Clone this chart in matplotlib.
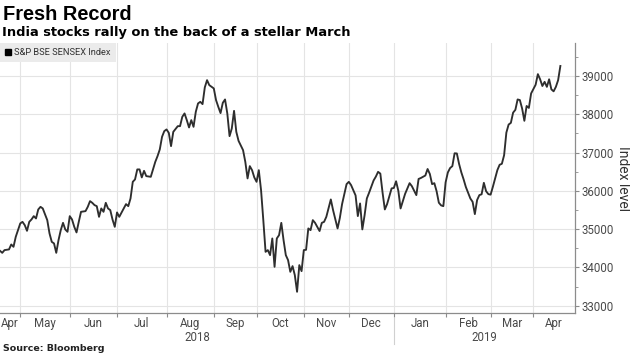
import matplotlib
matplotlib.use("Agg")
import matplotlib.pyplot as plt
from matplotlib.lines import Line2D
from matplotlib.ticker import FixedLocator, MultipleLocator, NullFormatter

# ── Data: S&P BSE Sensex closes, x = trading session (0 = mid-April 2018) ──
SESSION = [
    0, 1, 2, 4, 5, 6, 7, 9, 10, 11, 12, 13, 14, 15, 16, 17, 18, 19, 21, 22,
    23, 24, 25, 26, 27, 28, 29, 30, 31, 32, 33, 34, 35, 36, 38, 39, 40, 41, 42, 43,
    44, 45, 46, 47, 48, 49, 50, 51, 52, 53, 55, 56, 57, 58, 59, 60, 61, 62, 63, 64,
    65, 67, 68, 69, 70, 71, 72, 73, 74, 75, 76, 77, 79, 80, 81, 82, 83, 84, 85, 86,
    87, 88, 89, 90, 91, 92, 93, 95, 96, 97, 98, 99, 100, 101, 102, 103, 104, 105, 106, 108,
    109, 110, 111, 112, 113, 114, 115, 116, 117, 118, 119, 120, 121, 122, 123, 124, 125, 126, 127, 128,
    129, 130, 131, 132, 133, 134, 135, 136, 137, 138, 139, 140, 142, 143, 144, 145, 147, 148, 150, 151,
    152, 154, 155, 156, 158, 159, 160, 161, 162, 163, 164, 166, 167, 168, 169, 170, 171, 172, 173, 174,
    175, 176, 177, 178, 179, 180, 182, 183, 185, 186, 187, 189, 190, 191, 192, 193, 194, 195, 196, 197,
    198, 199, 200, 201, 202, 203, 204, 205, 206, 207, 208, 209, 210, 211, 212, 213, 214, 215, 216, 217,
    218, 219, 221, 222, 223, 224, 225, 226, 227, 228, 229, 230, 231, 232, 233, 234, 235, 236, 238, 239,
    240, 241, 242, 243, 244, 245, 246, 247, 248, 249,
]
CLOSE = [
    34433, 34381, 34452, 34470, 34600, 34538, 34799, 35149, 35190, 35104,
    34956, 35190, 35253, 35339, 35279, 35514, 35582, 35540, 35235, 34888,
    34668, 34627, 34381, 34713, 34974, 35164, 34992, 34930, 35339, 35253,
    35060, 34914, 35190, 35452, 35470, 35582, 35731, 35687, 35627, 35600,
    35321, 35540, 35452, 35687, 35540, 35496, 35250, 35060, 35436, 35321,
    35540, 35653, 35600, 35802, 36235, 36298, 36559, 36559, 36350, 36522,
    36384, 36366, 36559, 36757, 36906, 37081, 37410, 37559, 37603, 37514,
    37167, 37540, 37689, 37689, 37932, 38021, 37846, 37655, 37846, 37671,
    38063, 38282, 38324, 38264, 38700, 38890, 38760, 38674, 38368, 38193,
    38030, 38298, 38386, 38021, 37428, 37629, 38089, 37540, 37305, 37063,
    36757, 36324, 36645, 36540, 36350, 36235, 36540, 36018, 35235, 34407,
    34452, 34321, 34757, 34016, 34757, 34843, 35164, 34713, 34321, 34191,
    33885, 34034, 33799, 33363, 34060, 33903, 34452, 34460, 35018, 34974,
    35235, 35164, 34950, 35164, 35190, 35321, 35775, 35496, 35018, 35290,
    35653, 36175, 36235, 36150, 35880, 35340, 35671, 34992, 35360, 35800,
    35950, 36270, 36370, 36496, 36450, 35950, 35514, 35653, 35860, 36063,
    36075, 36250, 36000, 35540, 35735, 35920, 36200, 36123, 35888, 36310,
    36335, 36400, 36570, 36440, 36175, 36200, 35990, 35690, 35620, 35600,
    36220, 36480, 36595, 36645, 36980, 36976, 36700, 36480, 36300, 36100,
    35950, 35800, 35713, 35392, 35760, 35888, 35910, 36209, 35990, 35914,
    35900, 36104, 36540, 36680, 36706, 36930, 37520, 37730, 37775, 38042,
    38115, 38386, 38370, 38150, 37828, 38215, 38165, 38543, 38770, 39047,
    38912, 38737, 38846, 38715, 38912, 38650, 38598, 38715, 38890, 39260,
]

# first session of each month (May 2018 .. Apr 2019)
MONTH_START = [9, 31, 52, 74, 95, 114, 135, 155, 175, 198, 218, 237]
MONTHS = ["Apr", "May", "Jun", "Jul", "Aug", "Sep", "Oct",
          "Nov", "Dec", "Jan", "Feb", "Mar", "Apr"]
YEARS = ["2018", "2019"]
YEAR_START = 175          # first session of 2019
X_END = 255.5
Y_TICKS = [33000, 34000, 35000, 36000, 37000, 38000, 39000]

TXT = "#222222"
TICK = "#4a4a4a"
GRID = "#e4e4e4"
AXIS = "#8c8c8c"

fig = plt.figure(figsize=(6.3, 3.54), dpi=100)
ax = fig.add_axes([0.0, 1 - 313 / 354, 575 / 630, 270 / 354])

ax.plot(SESSION, CLOSE, color="#2e2e2e", linewidth=1.35, solid_joinstyle="round")

ax.set_xlim(0, X_END)
ax.set_ylim(32810, 39860)

# y axis on the right
ax.yaxis.tick_right()
ax.set_yticks(Y_TICKS)
ax.yaxis.set_minor_locator(MultipleLocator(500))
ax.tick_params(axis="y", which="major", length=3, color=AXIS, labelsize=8.3,
               labelcolor=TICK, pad=2)
ax.tick_params(axis="y", which="minor", length=2, color=AXIS)
for lab in ax.get_yticklabels():
    lab.set_family("Roboto")
ax.text(1.0835, 0.5, "Index level", transform=ax.transAxes, family="Roboto",
        fontsize=10, color="#333333", rotation=270, ha="center", va="center")

# x axis: month boundaries as major ticks, labels centred in each month
edges = [0] + MONTH_START + [X_END]
centres = [(a + b) / 2 for a, b in zip(edges[:-1], edges[1:])]
ax.xaxis.set_major_locator(FixedLocator(MONTH_START))
ax.xaxis.set_major_formatter(NullFormatter())
ax.xaxis.set_minor_locator(FixedLocator(centres))
ax.set_xticklabels(MONTHS, minor=True, family="Roboto", fontsize=8.3, color=TICK)
ax.tick_params(axis="x", which="major", length=3, color=AXIS)
ax.tick_params(axis="x", which="minor", length=0, pad=3)

ax.grid(True, which="major", color=GRID, linewidth=0.8)
ax.set_axisbelow(True)
for s in ("top", "left"):
    ax.spines[s].set_visible(False)
for s in ("bottom", "right"):
    ax.spines[s].set_color(AXIS)
    ax.spines[s].set_linewidth(0.9)

# year row below the months
trans = ax.get_xaxis_transform()
ax.text((0 + YEAR_START) / 2, -0.068, YEARS[0], transform=trans, ha="center",
        va="top", family="Roboto", fontsize=8.3, color=TICK)
ax.text((YEAR_START + X_END) / 2, -0.068, YEARS[1], transform=trans, ha="center",
        va="top", family="Roboto", fontsize=8.3, color=TICK)
ax.plot([YEAR_START, YEAR_START], [-0.02, -0.115], transform=trans, color="#d0d0d0",
        linewidth=0.8, clip_on=False)

# legend chip
handle = Line2D([], [], marker="s", color="black", linestyle="none", markersize=4)
leg = ax.legend([handle], ["S&P BSE SENSEX Index"], loc="upper left",
                bbox_to_anchor=(0, 1), borderaxespad=0, frameon=True,
                fancybox=False, facecolor="#ebebeb", edgecolor="none",
                handlelength=0.7, handletextpad=0.3, borderpad=0.55,
                prop={"family": "Roboto", "size": 6.7})
leg.get_frame().set_alpha(1)
for t in leg.get_texts():
    t.set_color("#333333")

# titles and source
fig.text(3 / 630, 1 - 20 / 354, "Fresh Record", family="Liberation Sans",
         fontweight="bold", fontsize=14.4, color="black", va="baseline")
fig.text(2 / 630, 1 - 36 / 354, "India stocks rally on the back of a stellar March",
         family="DejaVu Sans", fontweight="bold", fontsize=9.4, color="black",
         va="baseline")
fig.text(3 / 630, 1 - 351 / 354, "Source: Bloomberg", family="DejaVu Sans",
         fontweight="bold", fontsize=6.8, color=TXT, va="baseline")

fig.savefig("out.png", dpi=100, facecolor="white")
